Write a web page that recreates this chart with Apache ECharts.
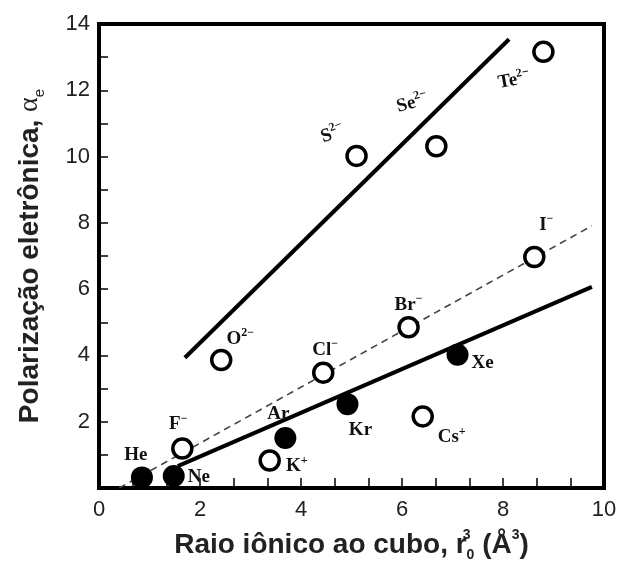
<!DOCTYPE html>
<html>
<head>
<meta charset="utf-8">
<script src="https://cdn.jsdelivr.net/npm/echarts@6/dist/echarts.min.js"></script>
<style>
html,body{margin:0;padding:0;background:#fff;}
#c{width:630px;height:562px;}
</style>
</head>
<body>
<div id="c"></div>
<script>
// ---- data ----
const filledNames = ['He', 'Ne', 'Ar', 'Kr', 'Xe'];
const filledX = [0.85, 1.48, 3.69, 4.92, 7.10];
const filledY = [0.32, 0.36, 1.51, 2.53, 4.02];

const openBase   = ['F', 'K', 'Cl', 'Cs', 'Br', 'O', 'S', 'Se', 'Te', 'I'];
const openCharge = ['\u2212', '+', '\u2212', '+', '\u2212', '2\u2212', '2\u2212', '2\u2212', '2\u2212', '\u2212'];
const openX = [1.65, 3.38, 4.44, 6.41, 6.13, 2.42, 5.10, 6.68, 8.80, 8.62];
const openY = [1.19, 0.83, 3.48, 2.16, 4.85, 3.86, 10.02, 10.31, 13.16, 6.97];

const anionFitX = [1.70, 8.12];
const anionFitY = [3.93, 13.54];
const halideFitX = [0.40, 9.76];
const halideFitY = [0.00, 7.91];
const nobleFitX = [1.56, 9.76];
const nobleFitY = [0.66, 6.07];

const xTitle = 'Raio iônico ao cubo, r';
const yTitle = 'Polarização eletrônica, ';

// ---- label placement (style) ----
const filledLabelOffset = [[-6, -22], [25, 1], [-7, -24], [13, 26], [25, 8]];
const openLabelOffset = [[-4, -24], [27, 6], [2, -23], [29, 21], [0, -22], [19, -21], [-15, -29], [-12, -48], [-34, 23], [12, -32]];
const openLabelRotate = [0, 0, 0, 0, 0, 0, 20, 15, 10, 0];

const labelRich = {
  b: { fontFamily: 'Liberation Serif', fontWeight: 'bold', fontSize: 19, color: '#111', lineHeight: 24 },
  s: { fontFamily: 'Liberation Serif', fontWeight: 'bold', fontSize: 12, color: '#111', lineHeight: 12, verticalAlign: 'top' }
};

const filledData = filledX.map((x, i) => ({
  value: [x, filledY[i]],
  label: { show: true, position: 'inside', offset: filledLabelOffset[i], formatter: '{b|' + filledNames[i] + '}', rich: labelRich }
}));
const openData = openX.map((x, i) => ({
  value: [x, openY[i]],
  label: { show: true, position: 'inside', offset: openLabelOffset[i], rotate: openLabelRotate[i],
           formatter: '{b|' + openBase[i] + '}{s|' + openCharge[i] + '}', rich: labelRich }
}));
const pairs = (xs, ys) => xs.map((x, i) => [x, ys[i]]);

const chart = echarts.init(document.getElementById('c'), null, { renderer: 'canvas' });
chart.setOption({
  animation: false,
  backgroundColor: '#fff',
  grid: { left: 99, right: 26, top: 24, bottom: 74, containLabel: false, outerBoundsMode: 'none',
          show: true, borderColor: '#000', borderWidth: 4, backgroundColor: 'transparent' },
  xAxis: {
    type: 'value', min: 0, max: 10, interval: 2,
    axisLine: { show: true, lineStyle: { color: '#000', width: 4 } },
    axisTick: { show: true, inside: true, length: 10, lineStyle: { color: '#000', width: 1.5 } },
    minorTick: { show: true, splitNumber: 3, length: 10, lineStyle: { color: '#000', width: 1.5 } },
    splitLine: { show: false },
    axisLabel: { color: '#222', fontFamily: 'Liberation Sans', fontSize: 22, margin: 11 },
    name: '{t|' + xTitle + '}{sp|3}{sb|0}{t| (Å}{sp2|3}{t|)}',
    nameLocation: 'middle', nameGap: 40,
    nameTextStyle: {
      rich: {
        t: { fontFamily: 'Liberation Sans', fontWeight: 'bold', fontSize: 28, color: '#222', lineHeight: 34 },
        sp: { fontFamily: 'Liberation Sans', fontWeight: 'bold', fontSize: 14, color: '#222', lineHeight: 14, verticalAlign: 'top', width: 0 },
        sb: { fontFamily: 'Liberation Sans', fontWeight: 'bold', fontSize: 14, color: '#222', lineHeight: 14, verticalAlign: 'bottom' },
        sp2: { fontFamily: 'Liberation Sans', fontWeight: 'bold', fontSize: 14, color: '#222', lineHeight: 14, verticalAlign: 'top' }
      }
    }
  },
  yAxis: {
    type: 'value', min: 0, max: 14, interval: 2,
    axisLine: { show: true, lineStyle: { color: '#000', width: 4 } },
    axisTick: { show: true, inside: true, length: 9, lineStyle: { color: '#000', width: 1.5 } },
    minorTick: { show: true, splitNumber: 2, length: 9, lineStyle: { color: '#000', width: 1.5 } },
    splitLine: { show: false },
    axisLabel: { color: '#222', fontFamily: 'Liberation Sans', fontSize: 22, margin: 9, showMinLabel: false },
    name: '{t|' + yTitle + '}{a|\u03b1}{e|e}',
    nameLocation: 'middle', nameGap: 52, nameRotate: 90,
    nameTextStyle: {
      rich: {
        t: { fontFamily: 'Liberation Sans', fontWeight: 'bold', fontSize: 28, color: '#222', lineHeight: 34 },
        a: { fontFamily: 'Liberation Serif', fontSize: 28, color: '#222', lineHeight: 34 },
        e: { fontFamily: 'Liberation Sans', fontSize: 15, color: '#222', lineHeight: 15, verticalAlign: 'bottom' }
      }
    }
  },
  series: [
    { type: 'line', data: pairs(halideFitX, halideFitY), showSymbol: false, z: 2,
      lineStyle: { color: '#444', width: 1.6, type: [7, 5] } },
    { type: 'line', data: pairs(nobleFitX, nobleFitY), showSymbol: false, z: 2,
      lineStyle: { color: '#000', width: 4 } },
    { type: 'line', data: pairs(anionFitX, anionFitY), showSymbol: false, z: 2,
      lineStyle: { color: '#000', width: 4 } },
    { type: 'scatter', data: openData, symbol: 'circle', symbolSize: 19, z: 5,
      itemStyle: { color: '#fff', borderColor: '#000', borderWidth: 3.5, opacity: 1 } },
    { type: 'scatter', data: filledData, symbol: 'circle', symbolSize: 22, z: 6,
      itemStyle: { color: '#000', opacity: 1 } }
  ]
});
</script>
</body>
</html>
